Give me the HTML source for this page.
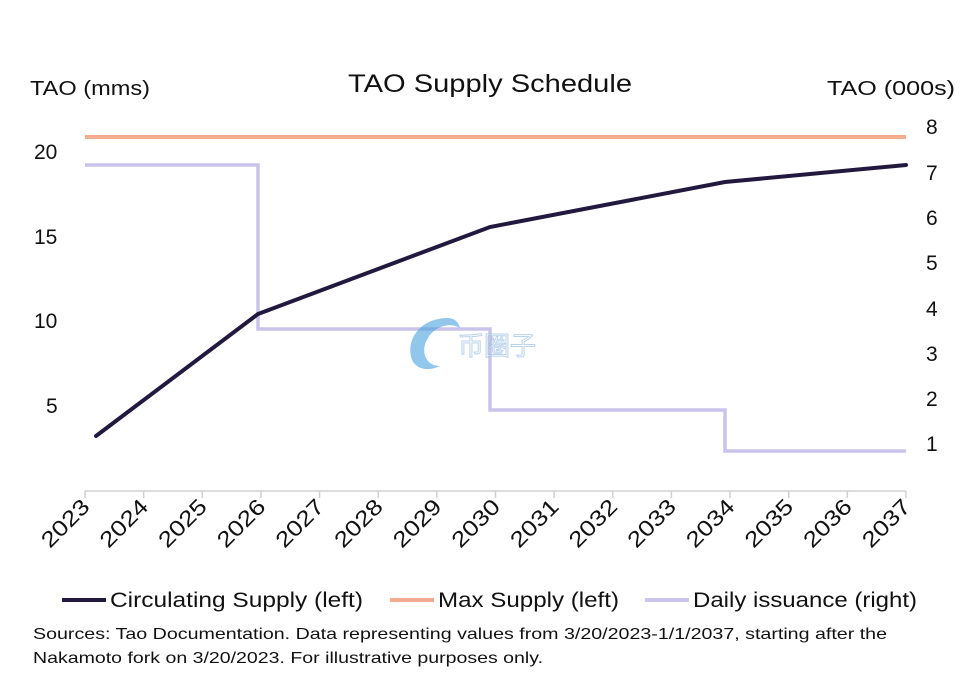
<!DOCTYPE html>
<html><head><meta charset="utf-8"><style>
body{margin:0;background:#fff;width:961px;height:683px;overflow:hidden;font-family:"Liberation Sans","Noto Sans CJK SC",sans-serif;}
</style></head><body>
<svg width="961" height="683" viewBox="0 0 961 683" xmlns="http://www.w3.org/2000/svg" font-family="Liberation Sans, Noto Sans CJK SC, sans-serif">
<text x="348" y="92" font-size="25" textLength="284" lengthAdjust="spacingAndGlyphs" fill="#111">TAO Supply Schedule</text>
<text x="30" y="95" font-size="20" textLength="120" lengthAdjust="spacingAndGlyphs" fill="#111">TAO (mms)</text>
<text x="827" y="95" font-size="20" textLength="128" lengthAdjust="spacingAndGlyphs" fill="#111">TAO (000s)</text>
<g font-size="21" fill="#111" text-anchor="start">
<text x="34" y="159">20</text><text x="34" y="244">15</text><text x="34" y="328">10</text><text x="46" y="413">5</text>
</g>
<g font-size="21" fill="#111">
<text x="926" y="134">8</text><text x="926" y="180">7</text><text x="926" y="225">6</text><text x="926" y="270">5</text><text x="926" y="316">4</text><text x="926" y="361">3</text><text x="926" y="406">2</text><text x="926" y="451">1</text>
</g>
<line x1="85" y1="491" x2="906" y2="491" stroke="#d0d0d0" stroke-width="1.5"/>
<g stroke="#d0d0d0" stroke-width="1.5" id="ticks"></g>
<g font-size="22" fill="#111" text-anchor="end" id="xl"></g>
<line x1="85" y1="137" x2="906" y2="137" stroke="#f4ab8e" stroke-width="4"/>
<polyline points="85,165 258,165 258,329 490,329 490,410 725,410 725,451 906,451" fill="none" stroke="#c9c4ec" stroke-width="3.5"/>
<polyline points="96,436 258,314 490,227 725,182 906,165" fill="none" stroke="#23193f" stroke-width="4" stroke-linecap="round"/>
<g opacity="0.6">
<path d="M448,318 C420,318 405,340 412,360 C418,372 432,370 440,366 C425,366 420,350 428,338 C435,326 450,322 460,328 C458,320 452,318 448,318Z" fill="#4aa3e0"/>
<text x="458" y="355" font-size="26" fill="#fff" stroke="#8fb7dd" stroke-width="1">币圈子</text>
</g>
<line x1="62" y1="600" x2="106" y2="600" stroke="#23193f" stroke-width="4"/>
<text x="110" y="607" font-size="21" textLength="253" lengthAdjust="spacingAndGlyphs" fill="#111">Circulating Supply (left)</text>
<line x1="390" y1="600" x2="434" y2="600" stroke="#f4ab8e" stroke-width="4"/>
<text x="438" y="607" font-size="21" textLength="181" lengthAdjust="spacingAndGlyphs" fill="#111">Max Supply (left)</text>
<line x1="645" y1="600" x2="689" y2="600" stroke="#c9c4ec" stroke-width="4"/>
<text x="693" y="607" font-size="21" textLength="224" lengthAdjust="spacingAndGlyphs" fill="#111">Daily issuance (right)</text>
<text x="33" y="639" font-size="16" textLength="854" lengthAdjust="spacingAndGlyphs" fill="#111">Sources: Tao Documentation. Data representing values from 3/20/2023-1/1/2037, starting after the</text>
<text x="33" y="663" font-size="16" textLength="510" lengthAdjust="spacingAndGlyphs" fill="#111">Nakamoto fork on 3/20/2023. For illustrative purposes only.</text>
</svg>
<script>
var t=document.getElementById('ticks'),l=document.getElementById('xl'),ns="http://www.w3.org/2000/svg";
for(var i=0;i<15;i++){var x=85+i*58.64;
var ln=document.createElementNS(ns,'line');ln.setAttribute('x1',x);ln.setAttribute('x2',x);ln.setAttribute('y1',491);ln.setAttribute('y2',498);t.appendChild(ln);
var tx=document.createElementNS(ns,'text');tx.setAttribute('transform','translate('+(x+6)+',508) rotate(-45)');tx.setAttribute('textLength','58');tx.setAttribute('lengthAdjust','spacingAndGlyphs');tx.textContent=2023+i;l.appendChild(tx);}
</script>
</body></html>
